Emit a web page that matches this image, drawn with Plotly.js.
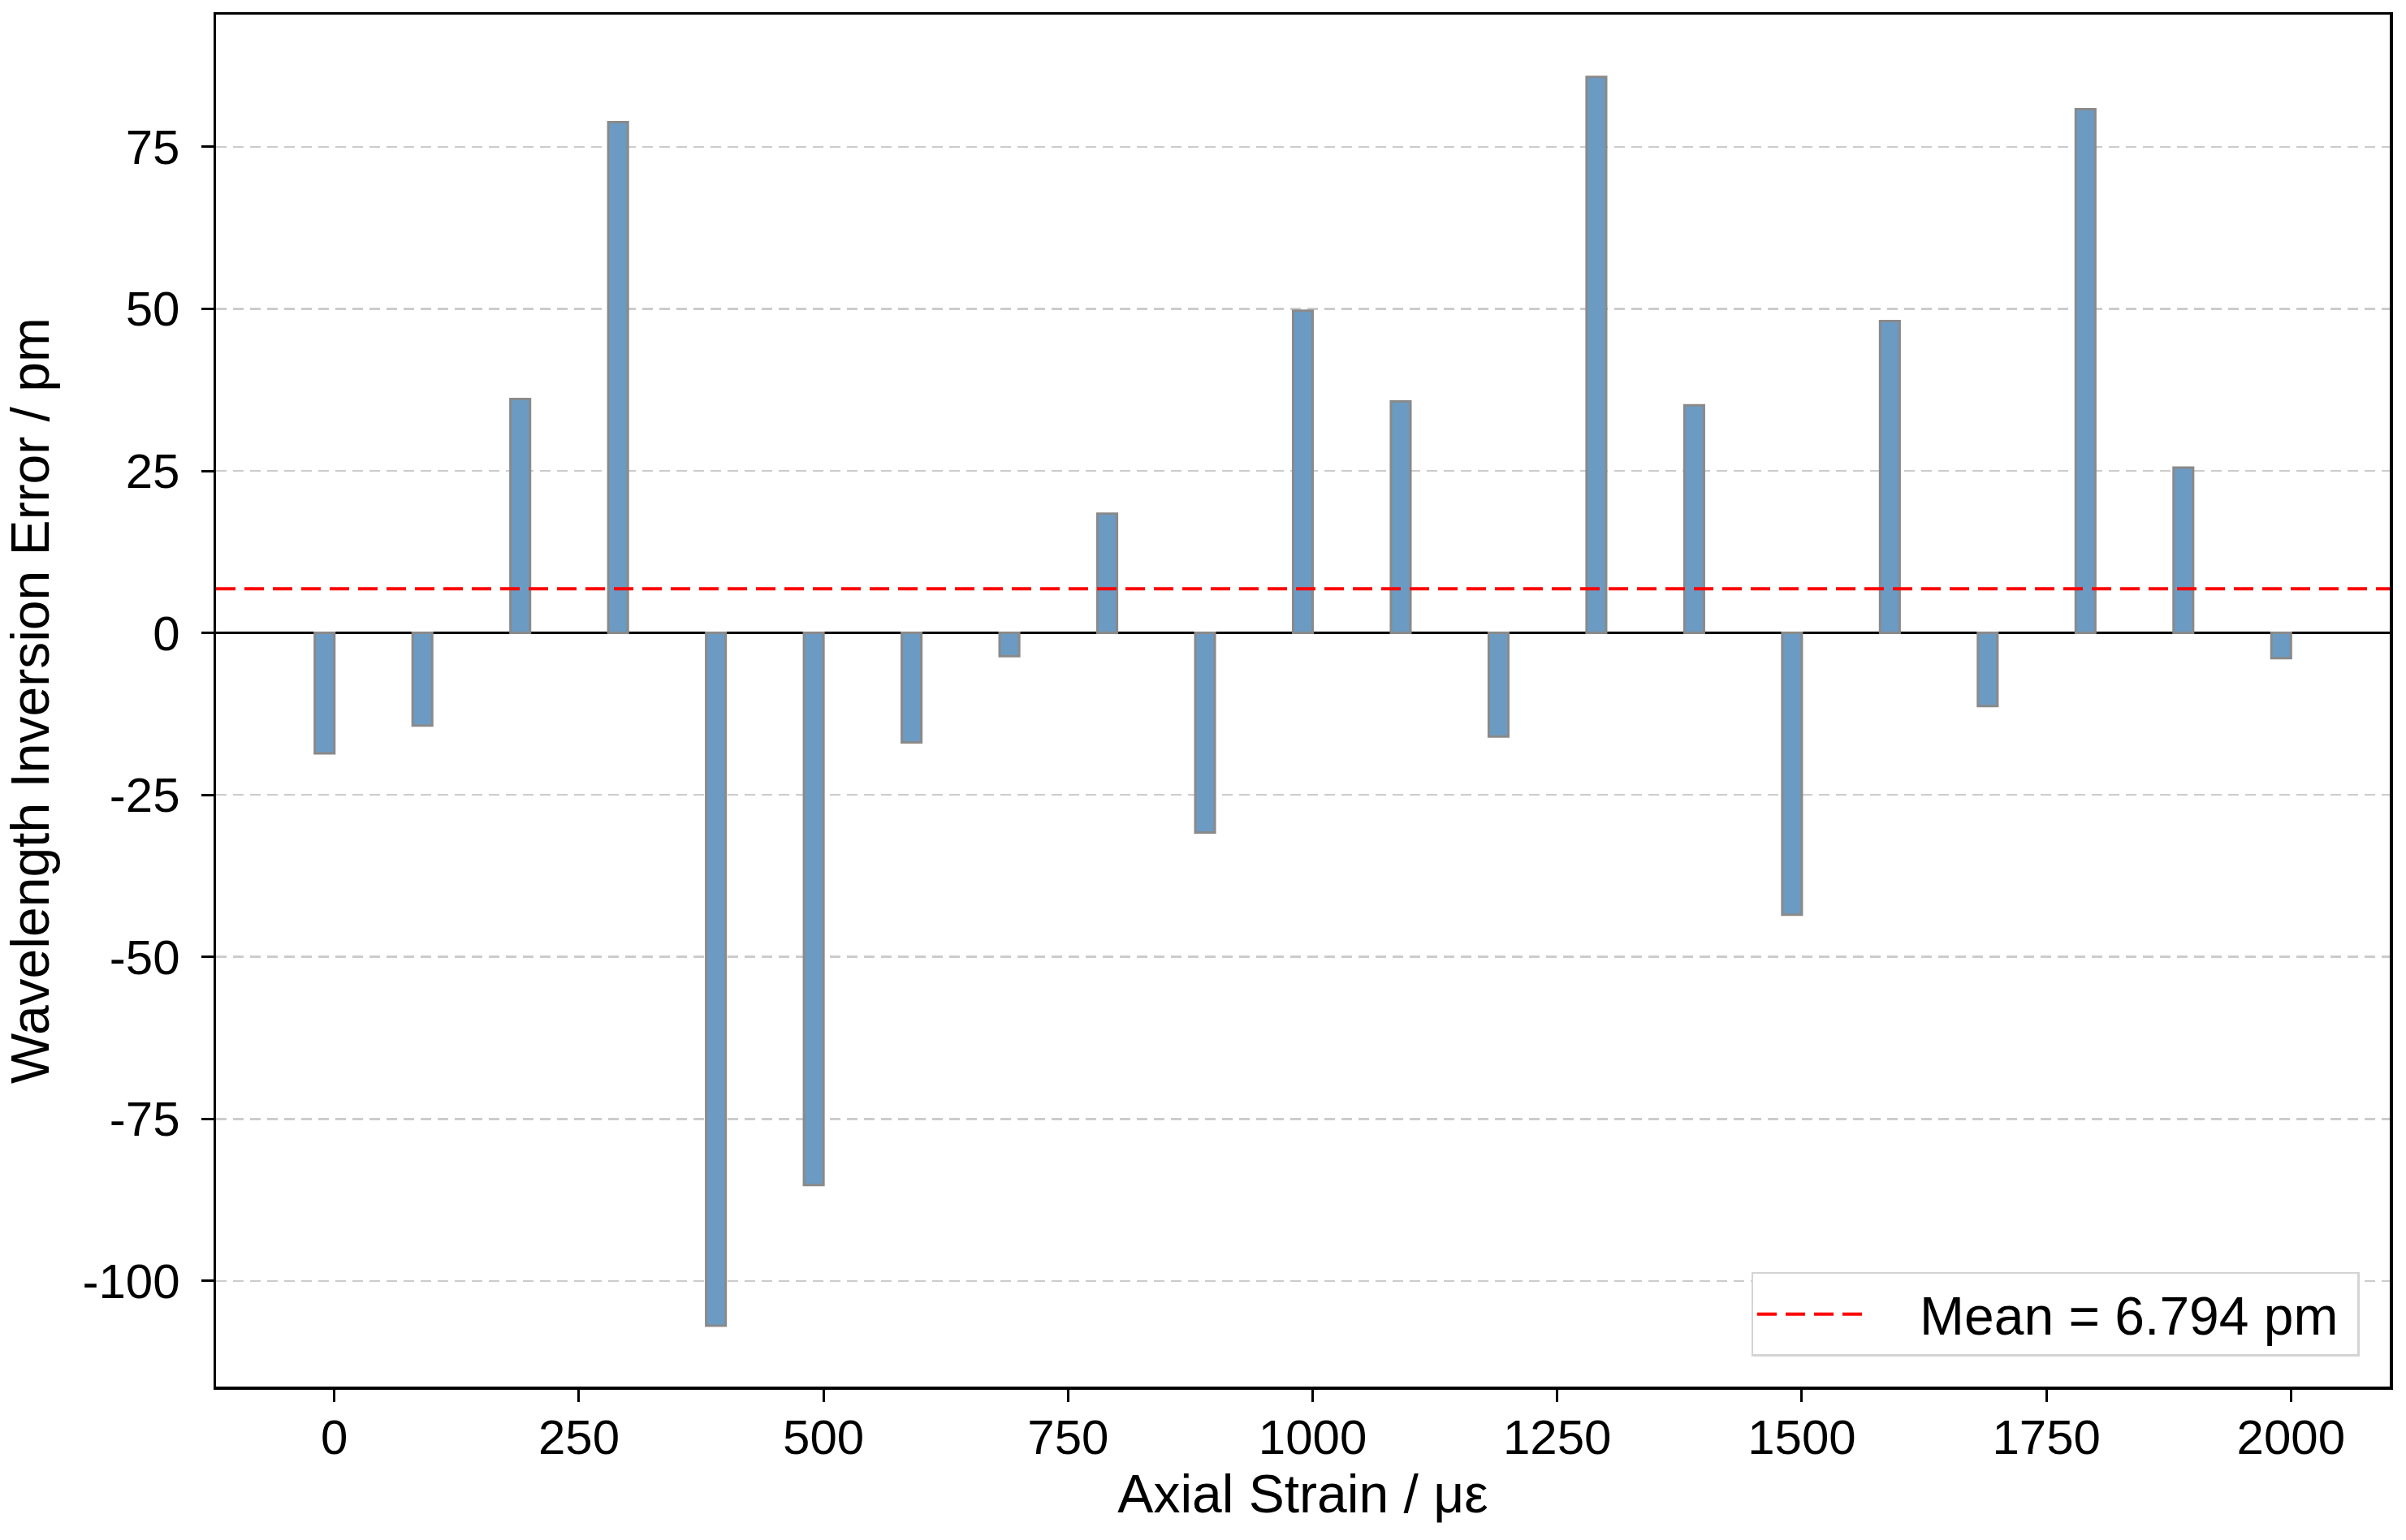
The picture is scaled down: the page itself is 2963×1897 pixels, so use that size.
<!DOCTYPE html>
<html>
<head>
<meta charset="utf-8">
<script src="https://cdn.plot.ly/plotly-3.0.1.min.js"></script>
<style>
  html, body { margin: 0; padding: 0; background: #ffffff; }
  #myChart { width: 2963px; height: 1897px; }
</style>
</head>
<body>
<div id="myChart"></div>
<script>
// axial strain steps (με) and the wavelength inversion error at each (pm)
const STRAIN = [0, 100, 200, 300, 400, 500, 600, 700, 800, 900, 1000,
                1100, 1200, 1300, 1400, 1500, 1600, 1700, 1800, 1900, 2000];
const ERROR_PM = [-18.6, -14.3, 36.1, 78.8, -106.9, -85.2, -16.9, -3.6, 18.4, -30.8, 49.7,
                  35.7, -16.0, 85.8, 35.1, -43.5, 48.1, -11.3, 80.8, 25.5, -3.9];
const MEAN_PM = 6.794;

const Y_TICKS = [-100, -75, -50, -25, 0, 25, 50, 75];
const Y_TICK_LABELS = ['-100', '-75', '-50', '-25', '0', '25', '50', '75'];
const X_TICKS = [0, 250, 500, 750, 1000, 1250, 1500, 1750, 2000];

const FONT = 'Arial, "Liberation Sans", sans-serif';
const NBSP = '\u00a0';

const bars = {
    x: STRAIN,
    y: ERROR_PM,
    type: 'bar',
    width: 20,
    offset: -20,
    showlegend: false,
    marker: {
        color: '#6b9bc3',
        line: { color: '#8a8a8a', width: 3 }
    },
    hoverinfo: 'x+y'
};

const layout = {
    width: 2963,
    height: 1897,
    paper_bgcolor: '#ffffff',
    plot_bgcolor: '#ffffff',
    margin: { l: 266, r: 20, t: 18, b: 189 },
    font: { family: FONT, color: '#000000', size: 60 },
    xaxis: {
        range: [-121, 2101],
        tickmode: 'array',
        tickvals: X_TICKS,
        ticks: 'outside',
        ticklen: 15,
        tickwidth: 3,
        tickcolor: '#000000',
        ticklabelstandoff: -8,
        tickfont: { size: 60 },
        showgrid: false,
        zeroline: false,
        showline: true,
        linecolor: '#000000',
        linewidth: 3.5,
        mirror: true,
        title: { text: 'Axial Strain / με', font: { size: 66 }, standoff: 6 }
    },
    yaxis: {
        range: [-116.3, 95.4],
        tickmode: 'array',
        tickvals: Y_TICKS,
        ticktext: Y_TICK_LABELS,
        ticks: 'outside',
        ticklen: 15,
        tickwidth: 3,
        tickcolor: '#000000',
        ticklabelstandoff: 14,
        tickfont: { size: 60 },
        showgrid: true,
        gridcolor: '#cccccc',
        gridwidth: 2.5,
        griddash: '13px,8px',
        zeroline: true,
        zerolinecolor: '#000000',
        zerolinewidth: 3.5,
        showline: true,
        linecolor: '#000000',
        linewidth: 3.5,
        mirror: true,
        automargin: true,
        title: { text: 'Wavelength Inversion Error / pm', font: { size: 66 }, standoff: 24 }
    },
    shapes: [{
        type: 'line',
        xref: 'paper', x0: 0, x1: 1,
        yref: 'y', y0: MEAN_PM, y1: MEAN_PM,
        line: { color: '#ff0000', width: 4, dash: '24px,11px' },
        layer: 'above',
        showlegend: true,
        name: NBSP + NBSP + NBSP + 'Mean = ' + MEAN_PM.toFixed(3) + ' pm' + NBSP
    }],
    showlegend: true,
    legend: {
        x: 0.986, y: 0.022,
        xanchor: 'right', yanchor: 'bottom',
        bgcolor: '#ffffff',
        bordercolor: '#d4d4d4',
        borderwidth: 2.5,
        font: { size: 66, color: '#000000' },
        itemwidth: 140
    },
    bargap: 0,
    hovermode: 'closest'
};

Plotly.newPlot('myChart', [bars], layout, { displayModeBar: false, staticPlot: true });
</script>
</body>
</html>
